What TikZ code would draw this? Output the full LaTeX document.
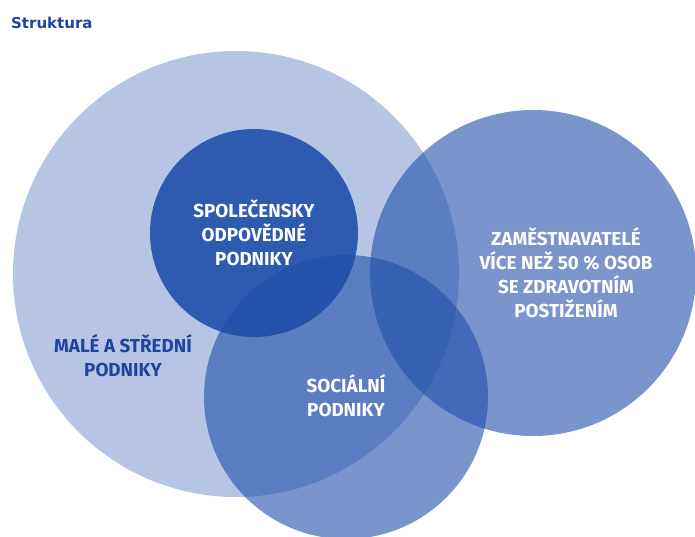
\documentclass[tikz,border=0pt]{standalone}
\usepackage{fontspec}
\setmainfont{Fira Sans}
\newfontfamily\headfont{DejaVu Sans}
\usepackage{xcolor}
\usepackage{tikz}

\definecolor{vennblue}{RGB}{31,78,170}
\definecolor{labelblue}{RGB}{31,68,160}

\begin{document}
\begin{tikzpicture}[x=1pt, y=-1pt,
    inlabel/.style={align=center, text=white, inner sep=0pt,
        font=\bfseries\fontsize{18.8}{24}\selectfont},
    outlabel/.style={align=center, text=labelblue, inner sep=0pt,
        font=\bfseries\fontsize{18.8}{24}\selectfont}]
    \useasboundingbox (0,0) rectangle (695,536);
    % circles, back to front: x/y/radius/opacity
    \foreach \x/\y/\r/\o in {236/274/223/0.33, 254/233/104/0.9,
                             533/273/163/0.6, 346/397/142/0.6} {
        \fill[vennblue, fill opacity=\o] (\x,\y) circle[radius=\r pt];
    }
    \node[anchor=west, text=labelblue, inner sep=0pt,
          font=\headfont\bfseries\fontsize{15}{18}\selectfont] (title) at (11,23) {Struktura};
    \node[inlabel] (csr) at (254,233) {SPOLEČENSKY\\ODPOVĚDNÉ\\PODNIKY};
    \node[inlabel] (employers) at (566,273) {ZAMĚSTNAVATELÉ\\VÍCE NEŽ 50 \% OSOB\\SE ZDRAVOTNÍM\\POSTIŽENÍM};
    \node[outlabel] (sme) at (123,356) {MALÉ A STŘEDNÍ\\PODNIKY};
    \node[inlabel] (social) at (346,396) {SOCIÁLNÍ\\PODNIKY};
\end{tikzpicture}
\end{document}
